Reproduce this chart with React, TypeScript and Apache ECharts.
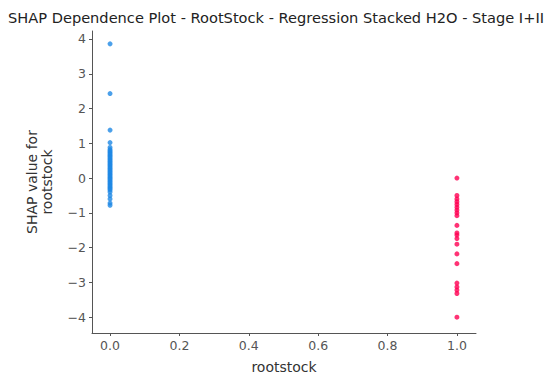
import React, { useEffect, useRef } from "react";
import * as echarts from "echarts";

// Feature value 0 (blue) and 1 (red) groups with their SHAP values
const blueShap: number[] = [
  3.86, 2.43, 1.38, 1.02, 0.88, 0.82, 0.78, 0.74, 0.7, 0.66, 0.62, 0.58, 0.54, 0.5,
  0.46, 0.42, 0.38, 0.34, 0.3, 0.26, 0.22, 0.18, 0.14, 0.1, 0.06, 0.02, -0.02,
  -0.06, -0.1, -0.14, -0.18, -0.22, -0.26, -0.3, -0.34, -0.4, -0.5, -0.6, -0.72, -0.78,
];
const redShap: number[] = [
  0.0, -0.5, -0.6, -0.68, -0.76, -0.84, -0.92, -1.0, -1.08, -1.36, -1.58, -1.64,
  -1.74, -1.9, -2.18, -2.46, -3.02, -3.13, -3.22, -3.32, -4.0,
];
const xTicks: number[] = [0, 0.2, 0.4, 0.6, 0.8, 1.0];
const yTicks: number[] = [-4, -3, -2, -1, 0, 1, 2, 3, 4];

const titleText = "SHAP Dependence Plot - RootStock - Regression Stacked H2O - Stage I+II";
const featureName = "rootstock";

const FONT = "DejaVu Sans";
const AXIS = "#555555";

export default function App() {
  const ref = useRef<HTMLDivElement>(null);

  useEffect(() => {
    if (!ref.current) return;
    const chart = echarts.init(ref.current, undefined, { renderer: "svg" });
    chart.setOption({
      animation: false,
      backgroundColor: "#ffffff",
      title: {
        text: titleText,
        left: 3,
        top: 5,
        textStyle: { fontFamily: FONT, fontSize: 14.6, fontWeight: "normal", color: "#222" },
      },
      grid: { left: 92, right: 81, top: 31, bottom: 36 },
      xAxis: {
        type: "value",
        min: -0.052,
        max: 1.055,
        name: featureName,
        nameLocation: "middle",
        nameGap: 27,
        nameTextStyle: { fontFamily: FONT, fontSize: 14, color: "#333" },
        splitLine: { show: false },
        axisLine: { show: true, onZero: false, lineStyle: { color: AXIS, width: 1 } },
        axisTick: { show: true, length: 3, lineStyle: { color: AXIS }, customValues: xTicks },
        axisLabel: {
          customValues: xTicks,
          formatter: (v: number) => v.toFixed(1),
          fontFamily: FONT,
          fontSize: 12.5,
          color: "#555",
          margin: 6,
        },
      },
      yAxis: {
        type: "value",
        min: -4.455,
        max: 4.23,
        name: "SHAP value for\n" + featureName,
        nameLocation: "middle",
        nameGap: 38,
        nameTextStyle: { fontFamily: FONT, fontSize: 14, color: "#333", lineHeight: 15 },
        splitLine: { show: false },
        axisLine: { show: true, onZero: false, lineStyle: { color: AXIS, width: 1 } },
        axisTick: { show: true, length: 3, lineStyle: { color: AXIS }, customValues: yTicks },
        axisLabel: {
          customValues: yTicks,
          formatter: (v: number) => (v < 0 ? "\u2212" + Math.abs(v) : String(v)),
          fontFamily: FONT,
          fontSize: 12.5,
          color: "#555",
          margin: 6,
        },
      },
      series: [
        {
          type: "scatter",
          symbolSize: 5,
          itemStyle: { color: "#1E88E5" },
          data: blueShap.map((v) => [0, v]),
        },
        {
          type: "scatter",
          symbolSize: 5,
          itemStyle: { color: "#FF0052" },
          data: redShap.map((v) => [1, v]),
        },
      ],
    });
    return () => chart.dispose();
  }, []);

  return <div ref={ref} style={{ width: 557, height: 379, position: "absolute", left: 0, top: 0 }} />;
}
